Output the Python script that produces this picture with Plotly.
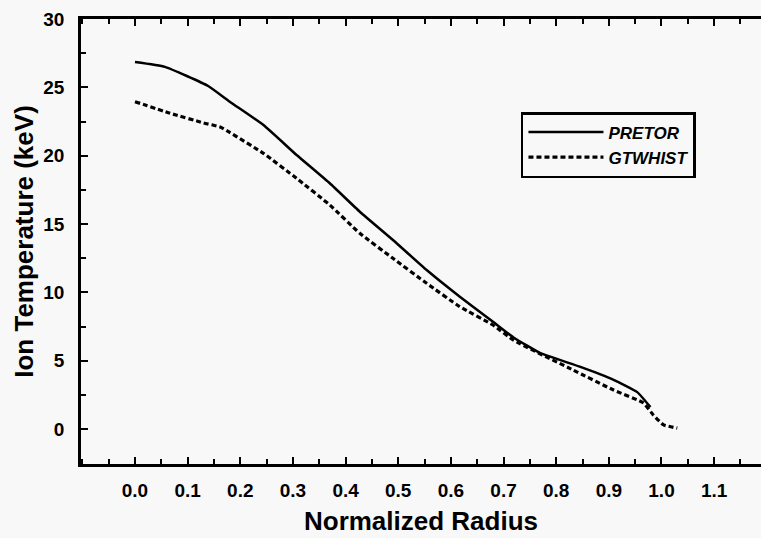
import plotly.graph_objects as go

# PRETOR (solid)
pretor_r = [0.0, 0.057, 0.139, 0.18, 0.244, 0.307, 0.37, 0.427, 0.49, 0.554, 0.617, 0.68, 0.719, 0.77, 0.846, 0.909, 0.954, 0.979]
pretor_t = [26.85, 26.5, 25.1, 23.95, 22.24, 20.05, 17.98, 15.9, 13.83, 11.63, 9.68, 7.85, 6.7, 5.55, 4.55, 3.6, 2.7, 1.6]

# GTWHIST (dashed)
gtw_r = [0.0, 0.067, 0.13, 0.162, 0.18, 0.244, 0.307, 0.37, 0.427, 0.49, 0.554, 0.617, 0.68, 0.719, 0.833, 0.909, 0.966, 0.985, 1.004, 1.03]
gtw_t = [23.95, 23.1, 22.4, 22.1, 21.7, 20.17, 18.34, 16.39, 14.32, 12.49, 10.66, 8.95, 7.61, 6.5, 4.3, 2.85, 1.9, 1.0, 0.3, 0.07]

x_ticks = [0.0, 0.1, 0.2, 0.3, 0.4, 0.5, 0.6, 0.7, 0.8, 0.9, 1.0, 1.1]
x_tick_labels = ["0.0", "0.1", "0.2", "0.3", "0.4", "0.5", "0.6", "0.7", "0.8", "0.9", "1.0", "1.1"]
y_ticks = [0, 5, 10, 15, 20, 25, 30]

FONT = "Liberation Sans, Arial, sans-serif"

fig = go.Figure()
fig.add_trace(go.Scatter(x=pretor_r, y=pretor_t, mode="lines", name="PRETOR",
                         line=dict(color="black", width=2.5, shape="spline", smoothing=0.4)))
fig.add_trace(go.Scatter(x=gtw_r, y=gtw_t, mode="lines", name="GTWHIST",
                         line=dict(color="black", width=3.2, dash="5px,3px", shape="spline", smoothing=0.4)))

fig.update_layout(
    width=761, height=538,
    margin=dict(l=81, r=0, t=19, b=74),
    paper_bgcolor="#f8f8f8", plot_bgcolor="#f8f8f8",
    font=dict(family=FONT, color="black"),
    showlegend=True,
    legend=dict(x=0.647, y=0.791, xanchor="left", yanchor="top",
                bgcolor="#f8f8f8", bordercolor="black", borderwidth=2.5,
                font=dict(family=FONT, size=17, color="black", style="italic", weight="bold"),
                itemwidth=75, tracegroupgap=0, entrywidth=100, entrywidthmode="pixels"),
)

fig.update_xaxes(
    range=[-0.1025, 1.189],
    tickvals=x_ticks, ticktext=x_tick_labels,
    showgrid=False, zeroline=False,
    showline=True, linecolor="black", linewidth=2.5, mirror="ticks",
    ticks="inside", ticklen=7, tickwidth=2, tickcolor="black",
    minor=dict(dtick=0.05, tick0=0.0, ticks="inside", ticklen=5, tickwidth=2, tickcolor="black"),
    tickfont=dict(family=FONT, size=19, color="black", weight="bold"),
    ticklabelstandoff=7,
    title=dict(text="Normalized Radius", font=dict(family=FONT, size=26, color="black", weight="bold"), standoff=13),
)

fig.update_yaxes(
    range=[-2.56, 30],
    tickvals=y_ticks,
    showgrid=False, zeroline=False,
    showline=True, linecolor="black", linewidth=2.5, mirror=False,
    ticks="inside", ticklen=7, tickwidth=2, tickcolor="black",
    minor=dict(dtick=2.5, tick0=0, ticks="inside", ticklen=5, tickwidth=2, tickcolor="black"),
    tickfont=dict(family=FONT, size=19, color="black", weight="bold"),
    ticklabelstandoff=10,
    title=dict(text="Ion Temperature (keV)", font=dict(family=FONT, size=26, color="black", weight="bold"), standoff=3),
)

fig.write_html("out.html")
